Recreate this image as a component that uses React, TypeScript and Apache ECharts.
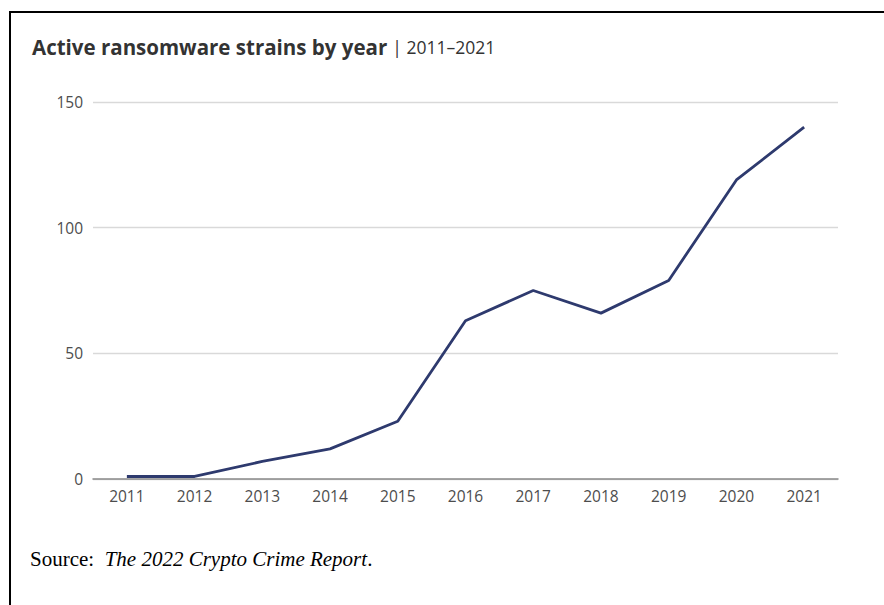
import React, { useEffect, useRef } from "react";
import * as echarts from "echarts";

const years = ["2011", "2012", "2013", "2014", "2015", "2016", "2017", "2018", "2019", "2020", "2021"];
const strains = [1, 1, 7, 12, 23, 63, 75, 66, 79, 119, 140];
const yTicks = { min: 0, max: 150, interval: 50 };

export default function App() {
  const ref = useRef<HTMLDivElement>(null);
  useEffect(() => {
    document.body.style.margin = "0";
    const chart = echarts.init(ref.current!, null, { renderer: "svg" });
    chart.setOption({
      animation: false,
      backgroundColor: "#ffffff",
      title: {
        left: 27,
        top: 31,
        text: "{b|Active ransomware strains by year} {r|| 2011–2021}",
        textStyle: {
          rich: {
            b: { fontFamily: "Open Sans", fontWeight: "bold", fontSize: 20.5, color: "#333333" },
            r: { fontFamily: "Open Sans", fontWeight: "normal", fontSize: 17.5, color: "#333333" },
          },
        },
      },
      grid: { left: 93, right: 46, top: 102, bottom: 126 },
      xAxis: {
        type: "category",
        data: years,
        boundaryGap: true,
        axisLine: { lineStyle: { color: "#8a8a8a", width: 1.5 } },
        axisTick: { show: false },
        axisLabel: { color: "#4d4d4d", fontFamily: "Open Sans", fontSize: 15.5, margin: 9 },
      },
      yAxis: {
        type: "value",
        min: yTicks.min,
        max: yTicks.max,
        interval: yTicks.interval,
        axisLine: { show: false },
        axisTick: { show: false },
        axisLabel: { color: "#4d4d4d", fontFamily: "Open Sans", fontSize: 15.5, margin: 10 },
        splitLine: { lineStyle: { color: "#d9d9d9", width: 1.3 } },
      },
      series: [
        {
          type: "line",
          data: strains,
          showSymbol: false,
          symbol: "none",
          lineStyle: { color: "#2e3a6e", width: 2.8 },
        },
      ],
      graphic: [
        { type: "line", shape: { x1: 9, y1: 12, x2: 884, y2: 12 }, style: { stroke: "#000000", lineWidth: 2 } },
        { type: "line", shape: { x1: 10, y1: 12, x2: 10, y2: 605 }, style: { stroke: "#000000", lineWidth: 2 } },
        {
          type: "text",
          left: 30,
          top: 548,
          style: {
            text: "{n|Source:  }{i|The 2022 Crypto Crime Report}{n|.}",
            rich: {
              n: { fontFamily: "Liberation Serif", fontSize: 21, fill: "#000000" },
              i: { fontFamily: "Liberation Serif", fontStyle: "italic", fontSize: 21, fill: "#000000" },
            },
          },
        },
      ],
    });
    return () => chart.dispose();
  }, []);
  return <div ref={ref} style={{ width: 884, height: 605 }} />;
}
